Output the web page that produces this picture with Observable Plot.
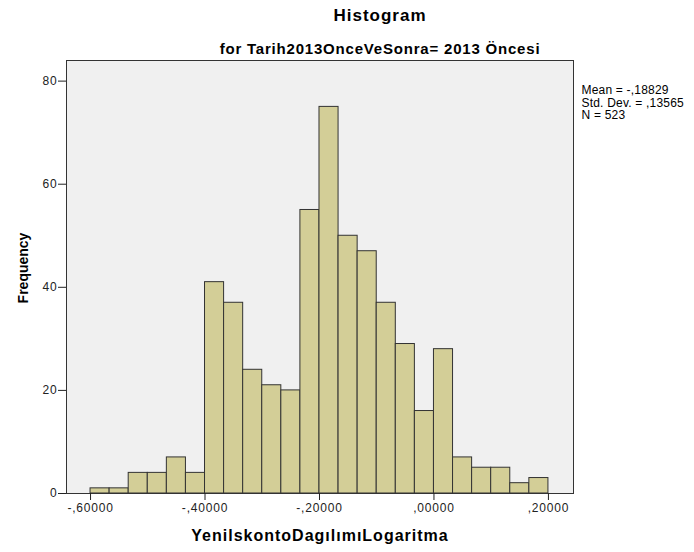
<!DOCTYPE html>
<html><head><meta charset="utf-8">
<script src="https://cdn.jsdelivr.net/npm/d3@7"></script>
<script src="https://cdn.jsdelivr.net/npm/@observablehq/plot@0.6"></script>
<style>
body{margin:0;background:#fff;font-family:Arial,"Liberation Sans",sans-serif;}
#wrap{width:694px;height:552px;position:relative;overflow:hidden;}
#head{height:56px;position:relative;}
.t{position:absolute;left:66px;width:628px;text-align:center;font-weight:bold;color:#000;white-space:nowrap;}
#title{top:16px;transform:translateY(-50%);font-size:17px;letter-spacing:1px;}
#sub{top:48px;transform:translateY(-50%);font-size:15px;letter-spacing:0.8px;}
#chart svg{display:block;}
#chart svg text{letter-spacing:0.8px;}
#chart svg .ytitle text{letter-spacing:0;}
#chart svg .xtitle text{letter-spacing:1px;}
#chart svg .stats text{letter-spacing:0.2px;}
</style></head>
<body><div id="wrap"><div id="head"><div class="t" id="title"></div><div class="t" id="sub"></div></div><div id="chart"></div></div>
<script>
const title = "Histogram";
const subtitle = "for Tarih2013OnceVeSonra= 2013 Öncesi";
const xTitle = "YenilskontoDagılımıLogaritma";
const yTitle = "Frequency";
const counts = [1,1,4,4,7,4,41,37,24,21,20,55,75,50,47,37,29,16,28,7,5,5,2,3];
const binMin = -0.6, binMax = 0.2;
const xTicks = [-0.6,-0.4,-0.2,0,0.2];
const yTicks = [0,20,40,60,80];
const statsLines = ["Mean = -,18829","Std. Dev. = ,13565","N = 523"];

document.getElementById("title").textContent = title;
document.getElementById("sub").textContent = subtitle;

const bw = (binMax - binMin) / counts.length;
const bins = counts.map((c, i) => ({x1: binMin + i * bw, x2: binMin + (i + 1) * bw, count: c}));
const fmt = d => (d < 0 ? "-" : "") + d3.format(".5f")(Math.abs(d)).replace(/^0\./, ",");
const font = "Arial, 'Liberation Sans', sans-serif";

const plot = Plot.plot({
  width: 694, height: 496,
  marginTop: 4, marginBottom: 59, marginLeft: 66, marginRight: 121,
  style: {fontFamily: font, fontSize: "12px", background: "transparent", color: "#222"},
  x: {domain: [-0.642, 0.2438]},
  y: {domain: [0, 84]},
  marks: [
    Plot.frame({fill: "#f0f0f0", stroke: null}),
    Plot.rect(bins, {x1: "x1", x2: "x2", y1: 0, y2: "count", fill: "#d3ce97", stroke: "#333", strokeWidth: 1, inset: 0}),
    Plot.frame({stroke: "#333"}),
    Plot.axisX({ticks: xTicks, tickFormat: fmt, tickSize: 7, tickPadding: 3, label: null}),
    Plot.axisY({ticks: yTicks, tickSize: 8, tickPadding: 1, label: null}),
    Plot.text([xTitle], {frameAnchor: "bottom", dy: 42, textAnchor: "middle", fontWeight: "bold", fontSize: 16, fill: "#000", lineAnchor: "middle", className: "xtitle"}),
    Plot.text([yTitle], {frameAnchor: "left", dx: -43, dy: -9, rotate: -90, textAnchor: "middle", fontWeight: "bold", fontSize: 14, fill: "#000", lineAnchor: "middle", className: "ytitle"}),
    Plot.text([statsLines.join("\n")], {frameAnchor: "top-right", dx: 8, dy: 42, textAnchor: "start", lineAnchor: "middle", lineHeight: 1.05, fontSize: 12, fill: "#000", className: "stats"})
  ]
});
document.getElementById("chart").appendChild(plot);
</script>
</body></html>
